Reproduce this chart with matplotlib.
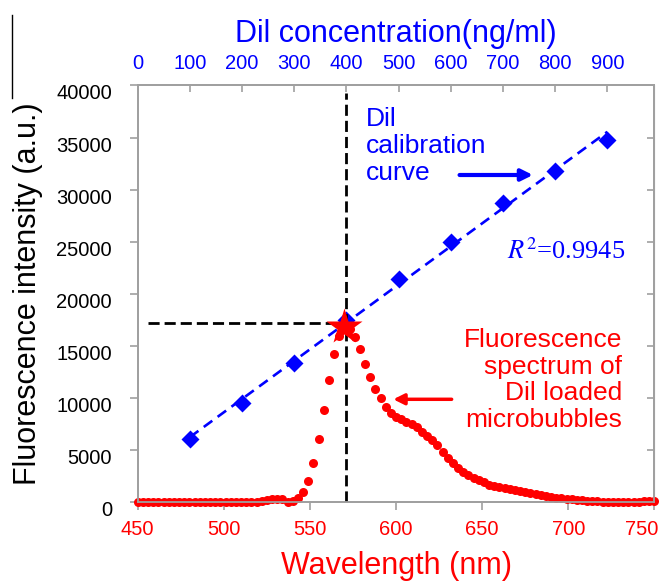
import numpy as np
import matplotlib
matplotlib.use('Agg')
import matplotlib.pyplot as plt
import matplotlib.transforms as mtransforms
from matplotlib.lines import Line2D

plt.rcParams['font.family'] = ['Liberation Sans', 'DejaVu Sans']
plt.rcParams['mathtext.fontset'] = 'stix'

# DiI calibration points (top axis, ng/ml)
conc = [100, 200, 300, 400, 500, 600, 700, 800, 900]
calib = [6050, 9560, 13400, 17500, 21400, 24940, 28690, 31840, 34770]
target_conc = 400

# fluorescence spectrum of DiI loaded microbubbles, every 3 nm (bottom axis)
wavelength = list(range(450, 751, 3))
spectrum = [40, 30, 30, 30, 20, 30, 30, 40, 40, 50, 60, 40, 30, 30, 30, 30, 40, 40, 30, 30,
            40, 40, 50, 60, 80,
            260, 320, 330, 280, 60, 160, 450,
            1020, 2070, 3800, 6050, 8860, 11740, 14230, 15990, 16850, 16650,
            15890, 14710, 13270, 12000, 10870, 10000, 9100, 8600, 8220, 8000,
            7740, 7500, 7200, 6780, 6390, 5980, 5500, 4860, 4220, 3750,
            3330, 2900, 2590, 2300, 2110, 1900, 1680, 1540, 1440, 1350,
            1260, 1170, 1070, 970, 870, 770, 670, 590, 520, 450,
            390, 330, 270, 230, 190, 150, 120, 90, 70, 50,
            40, 30, 30, 40, 50, 70, 90, 110, 140]

blue = '#0000ff'
red = '#ff0000'
grey = '#a0a0a0'

fig = plt.figure(figsize=(6.59, 5.81), dpi=100)
ax = fig.add_axes([0.2090, 0.13546, 0.7839, 0.7174])
twin = ax.twiny()
ax.set_zorder(twin.get_zorder() + 1)
ax.patch.set_visible(False)

# calibration curve + linear fit
k, b = np.polyfit(conc, calib, 1)
xs = np.array([conc[0], conc[-1]])
twin.plot(xs, k * xs + b, color=blue, lw=1.9, dashes=(4, 2.5), zorder=2)
twin.plot(conc, calib, 'D', color=blue, ms=9, mec='none', zorder=3)

# guide lines at 400 ng/ml
y_t = k * target_conc + b
twin.plot([20, target_conc], [y_t, y_t], color='black', lw=2, dashes=(4, 1.8), zorder=4)
twin.plot([target_conc, target_conc], [0, 39300], color='black', lw=2, dashes=(4, 1.8), zorder=4)

# spectrum
ax.plot(wavelength, spectrum, 'o', color=red, ms=6.5, mec='none', clip_on=False)
ip = int(np.argmax(spectrum))
ax.plot(wavelength[ip], spectrum[ip], '*', color=red, ms=27, mec='none', zorder=5)

ax.set_xlim(450, 750)
ax.set_ylim(0, 40000)
twin.set_xlim(0, 990)
ax.set_xticks(range(450, 751, 50))
ax.set_yticks(range(0, 40001, 5000))
twin.set_xticks(range(0, 901, 100))

for a in (ax, twin):
    for s in a.spines.values():
        s.set_color(grey)
        s.set_linewidth(1.3)

ax.tick_params(axis='x', direction='out', length=6, width=1.2, color=grey,
               labelsize=14.5, labelcolor=red, pad=7)
ax.tick_params(axis='y', direction='out', length=6, width=1.2, color=grey,
               labelsize=14.5, labelcolor='black', pad=12.5)
twin.tick_params(axis='x', direction='in', length=5, width=1.2, color=grey,
                 labelsize=14.5, labelcolor=blue, pad=9)

sec = ax.secondary_yaxis('right')
sec.set_yticks(range(0, 40001, 5000))
sec.tick_params(direction='in', length=5, width=1.2, color=grey, labelright=False)
sec.spines['right'].set_color(grey)

# y tick labels sit a bit below their ticks in the original
off = mtransforms.ScaledTranslation(0, -6.5 / 100, fig.dpi_scale_trans)
for lab in ax.get_yticklabels():
    lab.set_transform(lab.get_transform() + off)
# last wavelength label is pushed inside the picture
xlabs = ax.get_xticklabels()
off_r = mtransforms.ScaledTranslation(-13 / 100, 0, fig.dpi_scale_trans)
xlabs[-1].set_transform(xlabs[-1].get_transform() + off_r)

ax.set_xlabel('Wavelength (nm)', color=red, fontsize=22)
ax.xaxis.set_label_coords(0.5, -0.117)
ax.set_ylabel('Fluorescence intensity (a.u.)', color='black', fontsize=22)
ax.yaxis.set_label_coords(-0.183, 0.5)
twin.set_xlabel('Dil concentration(ng/ml)', color=blue, fontsize=22)
twin.xaxis.set_label_coords(0.5, 1.104)

# annotations
ax.text(582.4, 37900, 'Dil\ncalibration\ncurve', color=blue, fontsize=19,
        ha='left', va='top', linespacing=1.15)
ax.annotate('', xy=(679.5, 31410), xytext=(636.9, 31410),
            arrowprops=dict(arrowstyle='-|>', color=blue, lw=3, mutation_scale=17,
                            shrinkA=0, shrinkB=0))
ax.text(733, 23350, r'$R^2$=0.9945', color=blue, fontsize=19, family='Liberation Serif',
        ha='right', va='baseline')
ax.text(731.3, 16750, 'Fluorescence\nspectrum of\nDil loaded\nmicrobubbles', color=red,
        fontsize=19, ha='right', va='top', linespacing=1.15)
ax.annotate('', xy=(598.4, 9885), xytext=(632.3, 9885),
            arrowprops=dict(arrowstyle='-|>', color=red, lw=2.5, mutation_scale=16,
                            shrinkA=0, shrinkB=0))

# stray frame line at the left edge of the original picture
fig.add_artist(Line2D([12 / 659, 12 / 659], [1 - 15 / 581, 1 - 98 / 581], color='black', lw=1))

fig.savefig('out.png', dpi=100)
